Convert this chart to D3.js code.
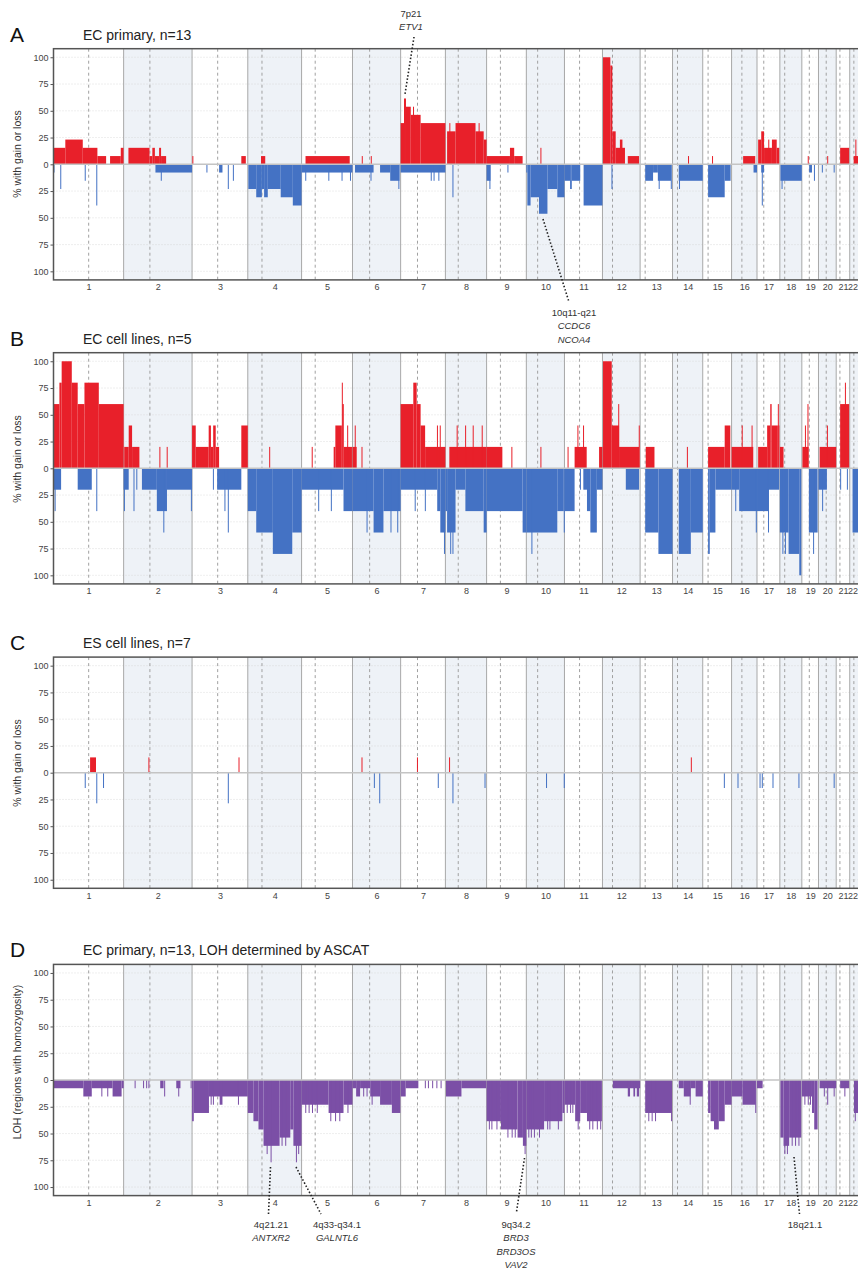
<!DOCTYPE html>
<html lang="en">
<head>
<meta charset="utf-8">
<title>Copy number profiles</title>
<script src="https://d3js.org/d3.v7.min.js"></script>
<style>
  body { margin: 0; background: #fff; }
  svg { display: block; font-family: "Liberation Sans", Arial, sans-serif; }
  .shade { fill: #eef2f7; }
  .chr-line { stroke: #a8a8a8; stroke-width: 1; }
  .cen-line { stroke: #a0a0a0; stroke-width: 1; stroke-dasharray: 3,3; }
  .grid { stroke: #d6d6d6; stroke-width: 0.8; stroke-dasharray: 1,2; }
  .gain { fill: #e8202a; }
  .loss { fill: #4472c4; }
  .loh { fill: #7b4fa6; }
  .zero { stroke: #c4c4c4; stroke-width: 1.5; }
  .frame { stroke: #555; stroke-width: 1.5; fill: none; }
  .axis text { font-size: 9px; fill: #444; }
  .axis line { stroke: #555; }
  .axis path { display: none; }
  .letter { font-size: 21px; fill: #111; }
  .title { font-size: 14px; fill: #222; }
  .ylab { font-size: 10.5px; fill: #333; }
  .note { font-size: 9.5px; fill: #333; text-anchor: middle; }
  .pointer { stroke: #222; stroke-width: 1.6; stroke-dasharray: 1.5,2; fill: none; }
</style>
</head>
<body>
<script>

// chromosome layout (hg19, Mb)
var chrNames = ["1","2","3","4","5","6","7","8","9","10","11","12","13","14","15","16","17","18","19","20","21","22"];
var chrLengths = [249.25,243.2,198.0,191.15,180.9,171.1,159.1,146.4,141.2,135.5,135.0,133.85,115.2,107.35,102.5,90.35,81.2,78.1,59.1,63.0,48.1,51.3];
var centromeres = [125.0,93.3,91.0,50.4,48.4,61.0,59.9,45.6,49.0,40.2,53.7,35.8,17.9,17.6,19.0,36.6,24.0,17.2,26.5,27.5,13.2,14.7];
var yTicks = [-100,-75,-50,-25,0,25,50,75,100];

// segments: [chromosome, start Mb, end Mb, percent]
var gainA = [
  [1,0,42,15.4],[1,42,104,23.1],[1,104,156,15.4],[1,156,187,7.7],[1,201,239,7.7],[1,239,249,15.4],
  [2,17,92,15.4],[2,92,102,7.7],[2,102,111,15.4],[2,111,126,7.7],[2,126,133,15.4],[2,133,151,7.7],
  [3,1,2.5,7.7],[3,175,191,7.7],[4,47,62,7.7],[5,14,171,7.7],[6,33,35,7.7],[6,65,67,7.7],
  [7,0,12,38.5],[7,12,19,61.5],[7,19,36,53.8],[7,36,71,46.2],[7,44,47,53.8],[7,71,159.1,38.5],
  [8,6,36,30.8],[8,14,17,38.5],[8,36,107,38.5],[8,107,136,30.8],[8,118,120,38.5],[8,136,146.4,23.1],
  [9,0,83,7.7],[9,83,98,15.4],[9,98,128,7.7],[10,50,52,15.4],
  [12,2,28,100],[12,28,35,92.3],[12,35,47,30.8],[12,47,80,15.4],[12,62,71,23.1],[12,90,130,7.7],
  [14,55,57,7.7],[15,33,35,7.7],[16,41,84,7.7],
  [17,4,15,23.1],[17,15,25,30.8],[17,25,53,15.4],[17,40,42,23.1],[17,53,70,23.1],[17,70,79,15.4],
  [19,21,22.5,7.7],[20,31,32.5,7.7],[21,14,46,15.4],[22,14,51.3,7.7],[22,20,22,23.1]
];
var lossA = [
  [1,0,2,7.7],[1,24,26,23.1],[1,111,113,15.4],[1,152,154,38.5],
  [2,113,243.2,7.7],[2,132,134,15.4],
  [3,51,52.5,7.7],[3,96,108,7.7],[3,127,129,23.1],[3,145,147,15.4],
  [4,2,30,23.1],[4,30,50,30.8],[4,50,58,23.1],[4,58,71,30.8],[4,71,117,23.1],[4,117,160,30.8],[4,160,191.15,38.5],
  [5,0,180.9,7.7],[5,13,15,15.4],[5,95,97,15.4],[5,142,144,15.4],[5,172,174,15.4],
  [6,9,75,7.7],[6,64,66,15.4],[6,98,134,7.7],[6,134,167,15.4],[6,163,166,23.1],
  [7,0,159.1,7.7],[7,107,109,15.4],[7,117,119,15.4],[7,134,136,15.4],
  [8,25,27,30.8],[9,0,14,15.4],[9,10,12,23.1],[9,74,76,7.7],
  [10,0,3.6,7.7],[10,3.6,15,38.5],[10,15,45,30.8],[10,45,75,46.2],[10,75,110,23.1],[10,110,135.5,30.8],
  [11,0,20,15.4],[11,20,26,23.1],[11,26,56,15.4],[11,68,135,38.5],
  [12,32,34,23.1],
  [13,18,46,15.4],[13,46,63,7.7],[13,63,110,15.4],[13,66,68,23.1],[13,109,111,23.1],
  [14,22,107.35,15.4],[14,23,25,23.1],
  [15,19,78,30.8],[15,78,99,15.4],
  [16,78,90.35,7.7],[17,15,25,7.7],[17,17,19,38.5],
  [18,2,78,15.4],[18,6,8,23.1],[19,26,36,7.7],[19,43,45,15.4],[20,12,14,7.7],[20,54,56,7.7]
];

var gainB = [
  [1,0,21,60],[1,21,29,80],[1,29,65,100],[1,65,86,80],[1,86,110,60],[1,110,161,80],[1,161,249.25,60],
  [2,2,18,20],[2,18,30,40],[2,30,56,20],[2,127,129,20],[2,153,155,20],
  [3,0,13,40],[3,13,59,20],[3,59,67,40],[3,67,75,20],[3,75,84,40],[3,84,96,20],[3,175,198,40],
  [4,76,78,20],[5,36,38,20],[5,114,120,20],[5,120,143,40],[5,143,145,80],[5,145,150,60],[5,150,179,20],[5,162,164,40],
  [6,0,15,20],[6,8,10,40],[6,32,34,20],
  [7,0,45,60],[7,45,57,80],[7,57,71,60],[7,71,87,40],[7,87,159.1,20],[7,129,131,40],[7,139,141,40],
  [8,14,146.4,20],[8,40,42,40],[8,70,72,40],[8,97,99,40],[8,129,131,40],
  [9,0,56,20],[9,88,90,20],[10,50,52,20],
  [11,11,13,20],[11,36,79,20],[11,46,48,40],[11,66,68,40],[11,123,135,20],
  [12,2,33,100],[12,33,59,40],[12,56,58,60],[12,59,130,20],[12,129,131,40],
  [13,20,51,20],[14,51,53,20],[15,19,78,20],[15,78,98,40],
  [16,0,77,20],[16,36,38,40],[16,71,73,40],
  [17,4,36,20],[17,36,47,40],[17,47,52,60],[17,52,74,40],[17,74,76,60],[17,76,79,40],
  [18,0,13,20],[19,2,24,20],[19,11,13,40],[19,20,22,60],[20,4,63,20],[20,30,32,40],
  [21,14,46,60],[21,31,34,80]
];
var lossB = [
  [1,0,27,20],[1,4,6,40],[1,86,136,20],[1,152,154,40],
  [2,0,18,20],[2,1,3,40],[2,35,37,40],[2,45,47,20],[2,65,118,20],[2,118,154,40],[2,141,143,60],[2,154,243.2,20],[2,239,241,40],
  [3,74,76,20],[3,89,175,20],[3,115,117,40],[3,127,129,60],
  [4,0,30,40],[4,30,89,60],[4,89,158,80],[4,158,191.15,60],
  [5,0,149,20],[5,59,61,40],[5,104,106,40],[5,149,180.9,40],
  [6,0,75,40],[6,50,52,60],[6,75,110,60],[6,110,171.1,40],[6,135,137,60],[6,159,161,60],
  [7,0,130,20],[7,50,52,40],[7,86,88,40],[7,130,141,40],[7,141,159.1,60],[7,154,156,80],
  [8,0,6,40],[8,6,36,60],[8,17,19,80],[8,25,27,80],[8,36,71,20],[8,71,136,40],[8,136,146.4,60],
  [9,0,128,40],[9,128,141.2,60],
  [10,0,110,60],[10,18,20,80],[10,110,133,40],[10,133,135.5,60],
  [11,0,36,40],[11,55,57,20],[11,67,80,20],[11,80,92,40],[11,92,115,60],[11,115,135,20],
  [12,83,130,20],[13,18,65,60],[13,65,115.2,80],[14,22,65,80],[14,65,107.35,60],
  [15,19,25,80],[15,25,45,60],[15,45,102.5,20],
  [16,0,27,20],[16,13,15,40],[16,27,90.35,40],[16,86,88,60],
  [17,0,41,40],[17,39,41,60],[17,41,79,20],
  [18,0,31,60],[18,9,11,80],[18,18,20,80],[18,31,69,80],[18,69,76,100],
  [19,25,56,60],[19,40,42,80],[20,0,30,20],[20,13,15,40],[21,14,16,20],[21,38,40,20],[22,10,51.3,60]
];

var gainC = [[1,130,151,14.3],[2,88,90,14.3],[3,165,167,14.3],[6,32,34,14.3],[7,58,60,14.3],[8,13,16,14.3],[14,65,67,14.3]];
var lossC = [
  [1,111,113,14.3],[1,152,154,28.6],[1,176,178,14.3],[3,127,129,28.6],[6,76,78,14.3],[6,95,97,28.6],
  [7,132,134,14.3],[8,25,27,28.6],[8,139,141,14.3],[10,70,72,14.3],[10,133,135,14.3],[15,75,77,14.3],
  [16,21,23,14.3],[17,9,11,14.3],[17,17,19,14.3],[17,55,57,14.3],[18,66,68,14.3],[20,54,56,14.3]
];

var lohD = [
  [1,0,106,7.7],[1,106,136,15.4],[1,136,210,7.7],[1,170,172,15.4],[1,191,193,15.4],[1,210,242,15.4],[1,242,249.25,7.7],
  [2,39,41,7.7],[2,69,71,7.7],[2,80,82,7.7],[2,88,90,7.7],[2,130,142,7.7],[2,144,146,15.4],[2,187,202,7.7],[2,194,196,15.4],[2,238,240,7.7],
  [3,0,6,38.5],[3,6,60,30.8],[3,60,198,15.4],[3,66,68,23.1],[3,74,76,23.1],[3,98,108,23.1],[3,163,166,23.1],
  [4,0,20,30.8],[4,20,38,38.5],[4,38,56,46.2],[4,56,113,61.5],[4,67,69,69.2],[4,81,83,76.9],[4,113,151,53.8],[4,120,122,61.5],[4,133,135,61.5],
  [4,151,162,46.2],[4,162,191.15,61.5],[4,171,173,76.9],[4,179,181,69.2],
  [5,0,96,23.1],[5,13,15,30.8],[5,25,27,30.8],[5,37,39,30.8],[5,54,56,30.8],[5,96,149,30.8],[5,102,104,38.5],[5,119,121,38.5],[5,134,136,38.5],
  [5,149,180.9,23.1],[5,163,165,30.8],
  [6,0,13,7.7],[6,13,27,15.4],[6,27,63,7.7],[6,38,40,15.4],[6,50,52,15.4],[6,63,98,15.4],[6,68,70,23.1],[6,98,140,23.1],[6,140,170,30.8],
  [7,0,18,15.4],[7,18,63,7.7],[7,86,88,7.7],[7,97,99,7.7],[7,112,114,7.7],[7,127,129,7.7],[7,142,144,7.7],
  [8,2,57,15.4],[8,57,145,7.7],
  [9,0,51,38.5],[9,8,10,46.2],[9,17,19,46.2],[9,35,37,46.2],[9,51,110,46.2],[9,74,76,53.8],[9,89,91,53.8],[9,100,102,53.8],
  [9,110,129,53.8],[9,129,141.2,61.5],[9,135,137,69.2],
  [10,0,63,46.2],[10,7,9,53.8],[10,16,18,53.8],[10,27,29,53.8],[10,45,47,53.8],[10,63,128,38.5],[10,74,76,46.2],[10,82,84,46.2],[10,112,114,46.2],[10,128,135.5,30.8],
  [11,0,38,23.1],[11,8,10,30.8],[11,20,22,30.8],[11,28,30,30.8],[11,38,56,38.5],[11,47,49,46.2],[11,56,80,30.8],[11,80,133,38.5],
  [11,88,90,46.2],[11,99,101,46.2],[11,115,117,46.2],[11,127,129,46.2],
  [12,37,134,7.7],[12,90,98,15.4],[12,110,116,15.4],[12,122,130,15.4],
  [13,18,113,30.8],[13,29,31,38.5],[13,41,43,38.5],[13,53,55,38.5],[13,110,112,38.5],
  [14,22,40,7.7],[14,40,64,15.4],[14,61,63,23.1],[14,64,82,7.7],[14,82,107.35,15.4],
  [15,19,28,30.8],[15,28,40,38.5],[15,40,57,46.2],[15,57,78,38.5],[15,78,102.5,23.1],
  [16,0,39,15.4],[16,39,86,23.1],[16,84,86,30.8],[17,0,20,7.7],
  [18,2,13,53.8],[18,13,33,61.5],[18,16,18,69.2],[18,25,27,69.2],[18,33,76,53.8],[18,42,44,61.5],[18,54,56,61.5],[18,66,68,61.5],
  [19,0,36,15.4],[19,9,11,23.1],[19,21,23,23.1],[19,29,31,23.1],[19,36,44,30.8],[19,44,56,46.2],
  [20,4,63,7.7],[20,19,21,15.4],[20,31,33,23.1],[20,54,56,15.4],
  [21,14,46,7.7],[21,29,31,15.4],[22,15,51.3,30.8],[22,18,20,38.5]
];

var panels = [
  {letter: "A", title: "EC primary, n=13", ylabel: "% with gain or loss", zero: 164.3, labelY: 154,
   series: [{data: gainA, cls: "gain", sign: 1}, {data: lossA, cls: "loss", sign: -1}]},
  {letter: "B", title: "EC cell lines, n=5", ylabel: "% with gain or loss", zero: 468.3, labelY: 459,
   series: [{data: gainB, cls: "gain", sign: 1}, {data: lossB, cls: "loss", sign: -1}]},
  {letter: "C", title: "ES cell lines, n=7", ylabel: "% with gain or loss", zero: 772.7, labelY: 763,
   series: [{data: gainC, cls: "gain", sign: 1}, {data: lossC, cls: "loss", sign: -1}]},
  {letter: "D", title: "EC primary, n=13, LOH determined by ASCAT", ylabel: "LOH (regions with homozygosity)", zero: 1080, labelY: 1062,
   series: [{data: lohD, cls: "loh", sign: -1}]}
];

var notes = [
  {lines: ["7p21", "ETV1"], x: 411, y: 17, from: [414, 37], to: [405, 94]},
  {lines: ["10q11-q21", "CCDC6", "NCOA4"], x: 574, y: 316, from: [543, 219], to: [569, 302]},
  {lines: ["4q21.21", "ANTXR2"], x: 271, y: 1228, from: [270.5, 1167], to: [268.5, 1214]},
  {lines: ["4q33-q34.1", "GALNTL6"], x: 337, y: 1228, from: [296, 1167], to: [321, 1214]},
  {lines: ["9q34.2", "BRD3", "BRD3OS", "VAV2"], x: 516, y: 1228, from: [524.5, 1158], to: [516.5, 1212]},
  {lines: ["18q21.1"], x: 805, y: 1228, from: [794, 1157], to: [799.5, 1214]}
];

var W = 858, H = 1269;
var x0 = 53.5, pxPerMb = 0.2814, halfPx = 115.6;

var chrStart = [0];
chrLengths.forEach(function (l, i) { chrStart.push(chrStart[i] + l); });
var total = chrStart[chrStart.length - 1];

var x = d3.scaleLinear().domain([0, total]).range([x0, x0 + total * pxPerMb]);
function gx(chr, mb) { return x(chrStart[chr - 1] + mb); }

// label positions: chromosome middles, last one kept inside the page
var mids = chrLengths.map(function (l, i) { return Math.min(chrStart[i] + l / 2, x.invert(W - 5.5)); });

var svg = d3.select("body").append("svg").attr("width", W).attr("height", H);

panels.forEach(function (p) {
  var y = d3.scaleLinear().domain([-108, 108]).range([p.zero + halfPx, p.zero - halfPx]);
  var g = svg.append("g");
  var top = y(108), bottom = y(-108);

  // shaded even chromosomes
  g.selectAll(".shade").data(d3.range(1, chrLengths.length, 2))
    .enter().append("rect").attr("class", "shade")
    .attr("x", function (i) { return x(chrStart[i]); })
    .attr("width", function (i) { return x(chrStart[i + 1]) - x(chrStart[i]); })
    .attr("y", top).attr("height", bottom - top);

  // horizontal dotted grid
  g.selectAll(".grid").data(yTicks.filter(function (d) { return d !== 0; }))
    .enter().append("line").attr("class", "grid")
    .attr("x1", x0).attr("x2", x(total)).attr("y1", function (d) { return y(d); }).attr("y2", function (d) { return y(d); });

  // chromosome boundaries and centromeres
  g.selectAll(".chr-line").data(chrStart.slice(1, -1))
    .enter().append("line").attr("class", "chr-line")
    .attr("x1", function (d) { return x(d); }).attr("x2", function (d) { return x(d); })
    .attr("y1", top).attr("y2", bottom);
  g.selectAll(".cen-line").data(centromeres)
    .enter().append("line").attr("class", "cen-line")
    .attr("x1", function (d, i) { return x(chrStart[i] + d); }).attr("x2", function (d, i) { return x(chrStart[i] + d); })
    .attr("y1", top).attr("y2", bottom);

  // bars
  p.series.forEach(function (s) {
    g.append("g").selectAll("rect").data(s.data).enter().append("rect")
      .attr("class", s.cls)
      .attr("x", function (d) { return gx(d[0], d[1]); })
      .attr("width", function (d) { return Math.max(1, gx(d[0], d[2]) - gx(d[0], d[1])); })
      .attr("y", function (d) { return s.sign > 0 ? y(d[3]) : y(0); })
      .attr("height", function (d) { return Math.abs(y(d[3]) - y(0)); });
  });

  g.append("line").attr("class", "zero").attr("x1", x0).attr("x2", x(total)).attr("y1", y(0)).attr("y2", y(0));

  // frame
  g.append("rect").attr("class", "frame").attr("x", x0).attr("y", top).attr("width", x(total) - x0).attr("height", bottom - top);

  // axes
  g.append("g").attr("class", "axis").attr("transform", "translate(" + x0 + ",0)")
    .call(d3.axisLeft(y).tickValues(yTicks).tickFormat(function (d) { return Math.abs(d); }).tickSize(3).tickPadding(2));
  g.append("g").attr("class", "axis").attr("transform", "translate(0," + bottom + ")")
    .call(d3.axisBottom(x).tickValues(mids).tickFormat(function (d, i) { return chrNames[i]; }).tickSize(0).tickPadding(4));

  // labels
  g.append("text").attr("class", "letter").attr("x", 10).attr("y", top - 7).text(p.letter);
  g.append("text").attr("class", "title").attr("x", 83).attr("y", top - 9).text(p.title);
  g.append("text").attr("class", "ylab").attr("text-anchor", "middle")
    .attr("transform", "translate(21," + p.labelY + ") rotate(-90)").text(p.ylabel);
});

// annotations
notes.forEach(function (n) {
  svg.append("line").attr("class", "pointer")
    .attr("x1", n.from[0]).attr("y1", n.from[1]).attr("x2", n.to[0]).attr("y2", n.to[1]);
  var t = svg.append("text").attr("class", "note");
  n.lines.forEach(function (l, i) {
    t.append("tspan").attr("x", n.x).attr("y", n.y + i * 13.3)
      .style("font-style", i === 0 ? "normal" : "italic").text(l);
  });
});

</script>
</body>
</html>
